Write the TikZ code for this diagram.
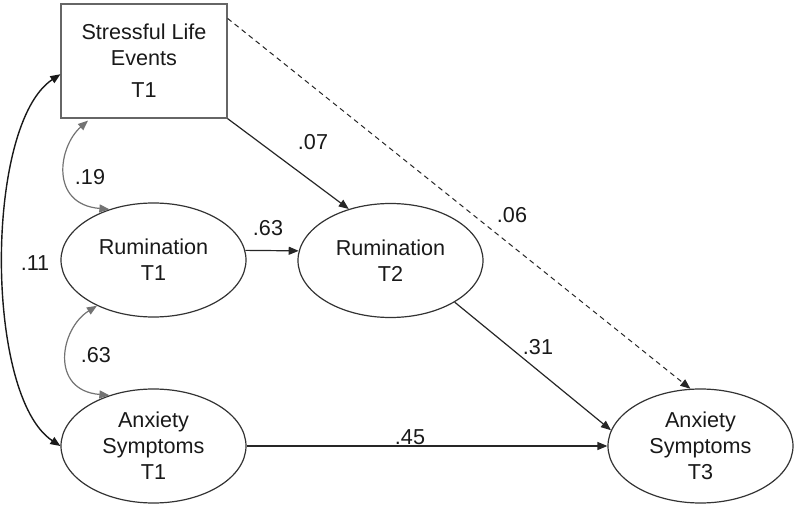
\documentclass[tikz,border=0pt]{standalone}
\usepackage{fontspec}
\setmainfont{Liberation Sans}
\usetikzlibrary{arrows.meta,shapes.geometric}
\begin{document}
\begin{tikzpicture}[x=0.5pt,y=-0.5pt,
  every node/.style={font=\fontsize{10.8}{13}\selectfont, text=black!90},
  lat/.style={draw=black!80, line width=0.6pt, ellipse, minimum width=92.5pt, minimum height=57pt, inner sep=0pt, align=center},
  obs/.style={draw=black!60, line width=0.6pt, rectangle, minimum width=83pt, minimum height=57pt, inner sep=0pt, align=center},
  path/.style={draw=black!85, line width=0.6pt, -{Triangle[length=5pt,width=4pt]}},
  cov/.style={draw=black!55, line width=0.6pt, {Triangle[length=5pt,width=4pt]}-{Triangle[length=5pt,width=4pt]}},
  covb/.style={draw=black!90, line width=0.7pt, {Triangle[length=5pt,width=4pt]}-{Triangle[length=5pt,width=4pt]}},
  coef/.style={inner sep=1pt}
]
\useasboundingbox (0,0) rectangle (800,509);
\node[obs] (box) at (144,61) {Stressful Life\\Events\\[3pt]T1};
\node[lat] (r1) at (153.5,260) {Rumination\\T1};
\node[lat] (a1) at (153.5,446) {Anxiety\\Symptoms\\T1};
\node[lat] (r2) at (390.5,260.5) {Rumination\\T2};
\node[lat] (t3) at (700.5,446) {Anxiety\\Symptoms\\T3};

\draw[path] (box.south east) -- (r2.129);
\draw[path, dashed, dash pattern=on 2.5pt off 2pt, line width=0.5pt] (box.27.4) -- (t3.100);
\draw[path] (r1.6) -- (r2.174);
\draw[path] (r2.-33) -- (t3.170);
\draw[path] (a1.east) -- (t3.west);

\draw[cov, shorten <=1.5pt] (box.-133.5) .. controls +(-32,28) and +(-60,-5) .. (r1.131);
\draw[cov] (r1.-141) .. controls +(-37,23) and +(-60,-5) .. (a1.131);
\draw[covb] (box.189.6) .. controls +(-76,50) and +(-76,-50) .. (a1.west);

\node[coef] (l07) at (313,142) {.07};
\node[coef] (l06) at (512,215) {.06};
\node[coef] (l63a) at (268,228) {.63};
\node[coef] (l31) at (538,347) {.31};
\node[coef] (l45) at (410,437) {.45};
\node[coef] (l11) at (35,263) {.11};
\node[coef] (l19) at (90,177) {.19};
\node[coef] (l63b) at (96,355) {.63};
\end{tikzpicture}
\end{document}
